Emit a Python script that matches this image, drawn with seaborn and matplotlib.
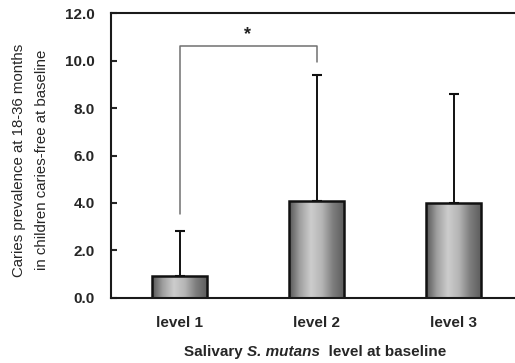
#%%
# Libraries

import numpy as np
import pandas as pd
import matplotlib
matplotlib.use('Agg')
import matplotlib.pyplot as plt
from matplotlib.colors import LinearSegmentedColormap
import seaborn as sns

#%%
# Data

levels = ['level 1', 'level 2', 'level 3']
prevalence = [0.9, 4.1, 4.0]
sd_upper = [1.93, 5.28, 4.58]

# significance bracket between level 1 and level 2
bracket_y = 10.63
bracket_left_end = 3.52
bracket_right_end = 9.93

df = pd.DataFrame({'level': levels, 'prevalence': prevalence})

#%%
sns.set_style('white')
plt.rcParams['font.family'] = ['Liberation Sans', 'DejaVu Sans']

fig = plt.figure(figsize=(5.15, 3.63), dpi=100)
ax = fig.add_axes([111 / 515, 1 - 297.7 / 363, (522 - 111) / 515, (297.7 - 13.3) / 363])

sns.barplot(data=df, x='level', y='prevalence', ax=ax, width=0.4,
            color='white', edgecolor='#111111', linewidth=1.8, errorbar=None)

# cylinder-like horizontal gradient inside each bar
grad = LinearSegmentedColormap.from_list(
    'bar', ['#555555', '#a0a0a0', '#cdcdcd', '#b5b5b5', '#7e7e7e', '#5e5e5e'])
g = np.linspace(0, 1, 256).reshape(1, -1)
for p in ax.patches:
    x0, y0 = p.get_x(), p.get_y()
    w, h = p.get_width(), p.get_height()
    im = ax.imshow(g, cmap=grad, aspect='auto', extent=[x0, x0 + w, y0, y0 + h],
                   zorder=p.get_zorder() - 0.1, interpolation='bilinear')
    im.set_clip_path(p)
    p.set_facecolor('none')

# upper error bars only
ax.errorbar(range(len(levels)), prevalence, yerr=[[0] * len(levels), sd_upper],
            fmt='none', ecolor='#111111', elinewidth=1.4, capsize=3.8, capthick=1.5,
            zorder=1)

# significance bracket
ax.plot([0, 0, 1, 1], [bracket_left_end, bracket_y, bracket_y, bracket_right_end],
        color='#707070', lw=1.1, zorder=3)
ax.text(0.5, bracket_y + 0.1, '*', ha='center', va='bottom', fontsize=13,
        fontweight='bold', color='#222222')

ax.set_xlim(-0.5, 2.5)
ax.set_ylim(0, 12)
ax.set_yticks(np.arange(0, 12.1, 2))
ax.set_yticklabels([f'{v:.1f}' for v in np.arange(0, 12.1, 2)])

for s in ['left', 'bottom', 'top']:
    ax.spines[s].set_visible(True)
    ax.spines[s].set_color('#1a1a1a')
    ax.spines[s].set_linewidth(1.5)
ax.spines['right'].set_visible(False)

ax.tick_params(axis='y', direction='in', length=4.5, width=1.5, pad=11.5,
               labelsize=11, left=True)
ax.tick_params(axis='x', length=0, pad=13, labelsize=11)
for t in ax.get_xticklabels() + ax.get_yticklabels():
    t.set_fontweight('bold')

ax.set_xlabel('')
ax.set_ylabel('')

# two-line y label
fig.text(19 / 515, 1 - 160 / 363, 'Caries prevalence at 18-36 months',
         rotation=90, ha='center', va='center', fontsize=10.8)
fig.text(42 / 515, 1 - 160 / 363, 'in children caries-free at baseline',
         rotation=90, ha='center', va='center', fontsize=10.8)

# x label with italic species name, centred at x = 315.5 px
pieces = [('Salivary ', 'normal'), ('S. mutans', 'italic'), ('  level at baseline', 'normal')]
renderer = fig.canvas.get_renderer()
texts = []
for s, style in pieces:
    t = fig.text(0, 1 - 351.7 / 363, s, fontsize=11, fontweight='bold', style=style,
                 ha='left', va='center')
    texts.append(t)
widths = [t.get_window_extent(renderer).width for t in texts]
xpos = 315.5 - sum(widths) / 2
for t, w in zip(texts, widths):
    t.set_x(xpos / 515)
    xpos += w

fig.savefig('out.png', dpi=100)
